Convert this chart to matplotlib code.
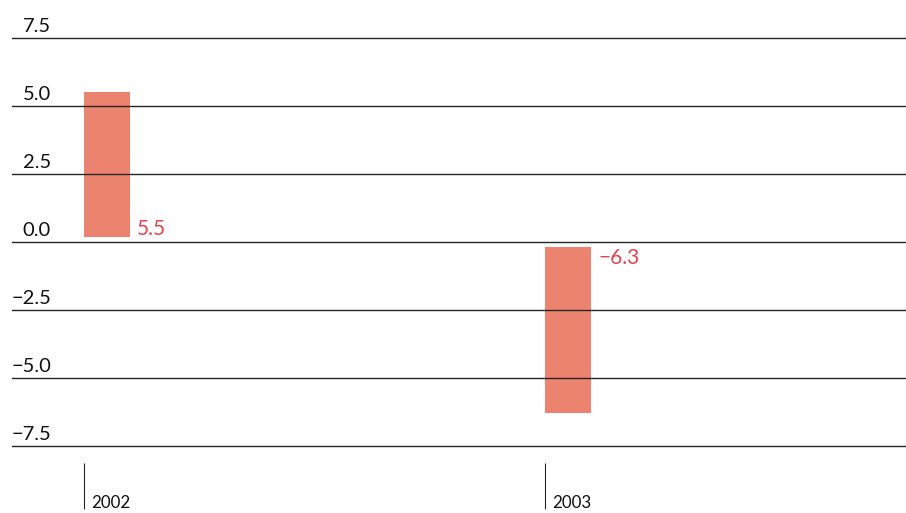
import matplotlib
matplotlib.use("Agg")
import matplotlib.pyplot as plt

categories = ["2002", "2003"]
values = [5.5, -6.3]
yticks = [-7.5, -5.0, -2.5, 0.0, 2.5, 5.0, 7.5]
ytick_labels = ["\u22127.5", "\u22125.0", "\u22122.5", "0.0", "2.5", "5.0", "7.5"]

plt.rcParams["font.family"] = ["Lato", "DejaVu Sans"]

W, H = 906, 513
fig = plt.figure(figsize=(W / 100, H / 100), dpi=100)
px_per_unit = 27.2
ylo, yhi = -7.6, 7.6
ax_top = 38 - 0.1 * px_per_unit
ax_bot = 446 + 0.1 * px_per_unit
ax_left, ax_right = 12, 906
ax = fig.add_axes([ax_left / W, 1 - ax_bot / H, (ax_right - ax_left) / W, (ax_bot - ax_top) / H])

# x scale: category 0 at px 84, category 1 at px 545
step = 545 - 84
xlo = -(84 - ax_left) / step
xhi = (ax_right - 84) / step
ax.set_xlim(xlo, xhi)
ax.set_ylim(ylo, yhi)

bar_color = "#EB836F"
label_color = "#E5434E"
gap = 0.18
bar_w = 46 / step
xs = list(range(len(categories)))
bottoms = [gap if v >= 0 else -gap for v in values]
heights = [v - b for v, b in zip(values, bottoms)]
ax.bar(xs, heights, bottom=bottoms, width=bar_w, align="edge", color=bar_color, zorder=1)

# gridlines
for t in yticks:
    ax.axhline(t, color="#262626", lw=1.0, zorder=2)

for s in ax.spines.values():
    s.set_visible(False)
ax.set_yticks([])

# y labels above gridlines
for t, lab in zip(yticks, ytick_labels):
    ax.annotate(lab, xy=(0, t), xycoords=("axes fraction", "data"),
                xytext=(39 * 0.72, 6 * 0.72), textcoords="offset points",
                ha="right", va="baseline", fontsize=14.5, color="#111111")

# x ticks as outward tick marks
ax.set_xticks(xs)
ax.set_xticklabels([])
ax.spines["bottom"].set_position(("outward", (463 - ax_bot) * 0.72))
ax.tick_params(axis="x", direction="out", length=46 * 0.72, width=0.8, color="#222222")
for x, c in zip(xs, categories):
    ax.annotate(c, xy=(x, 0), xycoords=("data", "axes fraction"),
                xytext=(7 * 0.72, -(508 - ax_bot) * 0.72), textcoords="offset points",
                ha="left", va="baseline", fontsize=12.2, color="#111111", annotation_clip=False)

# value labels next to the bar base
for x, v, b in zip(xs, values, bottoms):
    txt = f"{v:.1f}".replace("-", "\u2212")
    if v >= 0:
        ax.annotate(txt, xy=(x + bar_w, b), xytext=(7 * 0.72, 2 * 0.72), textcoords="offset points",
                    ha="left", va="baseline", fontsize=15, color=label_color)
    else:
        ax.annotate(txt, xy=(x + bar_w, b), xytext=(7 * 0.72, -1 * 0.72), textcoords="offset points",
                    ha="left", va="top", fontsize=15, color=label_color)

fig.savefig("out.png", dpi=100)
